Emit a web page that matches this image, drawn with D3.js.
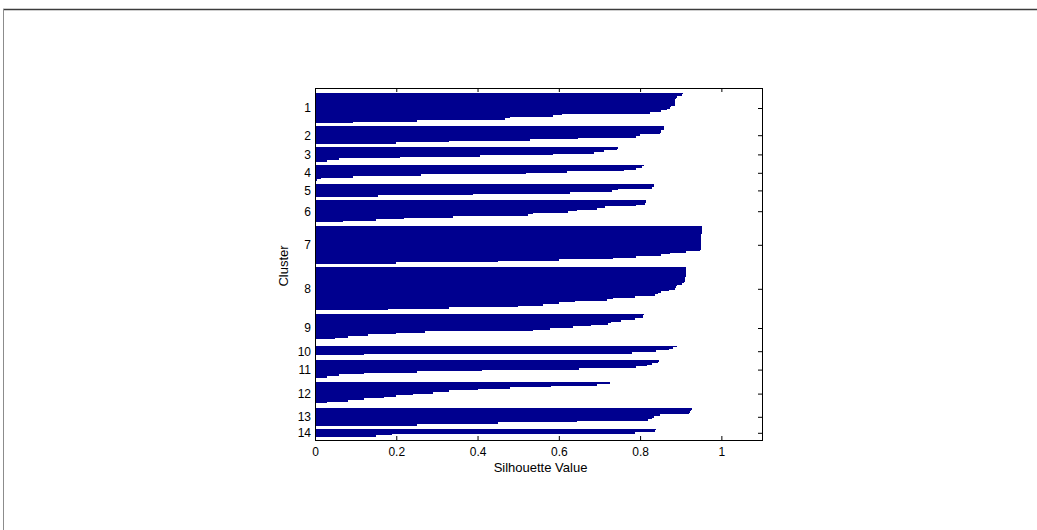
<!DOCTYPE html>
<html>
<head>
<meta charset="utf-8">
<script src="https://cdn.jsdelivr.net/npm/d3@7"></script>
<style>
  body { margin: 0; background: #ffffff; }
  svg { display: block; }
  text { font-family: "Liberation Sans", Arial, Helvetica, sans-serif; fill: #000; }
</style>
</head>
<body>
<svg id="chart" width="1037" height="530"></svg>
<script>
// ---------------- data ----------------
const clusterLabels = ["1","2","3","4","5","6","7","8","9","10","11","12","13","14"];

const cluster1  = [0.905, 0.902, 0.89, 0.888, 0.887, 0.887, 0.887, 0.886, 0.876, 0.874, 0.865, 0.851, 0.824, 0.607, 0.586, 0.48, 0.467, 0.25, 0.093];
const cluster2  = [0.859, 0.858, 0.852, 0.851, 0.849, 0.80, 0.79, 0.648, 0.53, 0.33, 0.2];
const cluster3  = [0.745, 0.743, 0.71, 0.687, 0.586, 0.406, 0.21, 0.06, 0.03];
const cluster4  = [0.809, 0.805, 0.791, 0.761, 0.62, 0.52, 0.26, 0.093, 0.015, 0.004];
const cluster5  = [0.834, 0.833, 0.83, 0.746, 0.73, 0.627, 0.39, 0.155];
const cluster6  = [0.814, 0.814, 0.812, 0.791, 0.713, 0.693, 0.645, 0.623, 0.537, 0.524, 0.34, 0.22, 0.15, 0.07];
const cluster7  = [0.953, 0.953, 0.952, 0.952, 0.952, 0.951, 0.951, 0.951, 0.951, 0.95, 0.95, 0.95, 0.95, 0.95, 0.949, 0.948, 0.914, 0.873, 0.851, 0.791, 0.734, 0.6, 0.45, 0.2];
const cluster8  = [0.913, 0.913, 0.912, 0.912, 0.912, 0.912, 0.911, 0.911, 0.911, 0.908, 0.904, 0.89, 0.889, 0.887, 0.872, 0.851, 0.845, 0.837, 0.787, 0.734, 0.718, 0.64, 0.6, 0.562, 0.5, 0.33, 0.18];
const cluster9  = [0.809, 0.808, 0.806, 0.787, 0.754, 0.728, 0.72, 0.68, 0.635, 0.578, 0.537, 0.27, 0.2, 0.13, 0.08, 0.05, 0.003, 0.001];
const cluster10 = [0.892, 0.88, 0.872, 0.84, 0.78, 0.12, 0.003];
const cluster11 = [0.846, 0.845, 0.83, 0.816, 0.79, 0.65, 0.41, 0.25, 0.12, 0.06, 0.03, 0.002];
const cluster12 = [0.726, 0.693, 0.58, 0.48, 0.4, 0.33, 0.29, 0.24, 0.2, 0.17, 0.12, 0.08, 0.03, 0.003];
const cluster13 = [0.927, 0.926, 0.924, 0.92, 0.85, 0.835, 0.83, 0.82, 0.644, 0.45, 0.25];
const cluster14 = [0.839, 0.836, 0.787, 0.19, 0.15];

const clusterValues = [cluster1, cluster2, cluster3, cluster4, cluster5, cluster6, cluster7,
                       cluster8, cluster9, cluster10, cluster11, cluster12, cluster13, cluster14];

const xTickValues = [0, 0.2, 0.4, 0.6, 0.8, 1];
const xTickLabels = ["0", "0.2", "0.4", "0.6", "0.8", "1"];
const xAxisTitle = "Silhouette Value";
const yAxisTitle = "Cluster";

// ---------------- layout ----------------
const W = 1037, H = 530;
const plot = { left: 315, right: 762, top: 88, bottom: 440 };
const TOP_PAD = 3, GAP = 2, BOTTOM_PAD = 2;
const BAR_COLOR = "#00008f";

let rowCursor = TOP_PAD;
const layout = clusterValues.map((vals, i) => {
  const start = rowCursor;
  rowCursor += vals.length + GAP;
  return { label: clusterLabels[i], values: vals, start, center: start + vals.length / 2 };
});
const totalRows = rowCursor - GAP + BOTTOM_PAD;

const x = d3.scaleLinear().domain([0, 1.1]).range([plot.left, plot.right]);
const y = d3.scaleLinear().domain([0, totalRows]).range([plot.top, plot.bottom]);

const svg = d3.select("#chart");
svg.append("rect").attr("width", W).attr("height", H).attr("fill", "#fff");

// figure frame lines
svg.append("line").attr("x1", 3).attr("x2", W).attr("y1", 9.5).attr("y2", 9.5)
  .attr("stroke", "#3c3c3c").attr("stroke-width", 1.3);
svg.append("line").attr("x1", 3.5).attr("x2", 3.5).attr("y1", 9).attr("y2", H)
  .attr("stroke", "#8c8c8c").attr("stroke-width", 1);

const centers = layout.map(d => d.center);

// left axis (ticks under bars)
const leftAxis = svg.append("g").attr("transform", `translate(${plot.left},0)`)
  .call(d3.axisLeft(y).tickValues(centers).tickFormat((d, i) => clusterLabels[i])
    .tickSizeInner(-4).tickSizeOuter(0).tickPadding(4));
leftAxis.select(".domain").remove();
leftAxis.selectAll("text").attr("font-size", 12).attr("font-family", null);
leftAxis.selectAll("line").attr("stroke", "#000");

// bars, one stepped area per cluster
const area = d3.area()
  .curve(d3.curveStepBefore)
  .x0(x(0))
  .x1(d => x(d.v))
  .y(d => y(d.r));

svg.append("g").selectAll("path")
  .data(layout)
  .join("path")
  .attr("d", c => {
    const pts = c.values.map((v, j) => ({ v, r: c.start + j }));
    pts.push({ v: c.values[c.values.length - 1], r: c.start + c.values.length });
    return area(pts);
  })
  .attr("fill", BAR_COLOR)
  .attr("shape-rendering", "crispEdges");

// bottom axis
const bottomAxis = svg.append("g").attr("transform", `translate(0,${plot.bottom})`)
  .call(d3.axisBottom(x).tickValues(xTickValues).tickFormat((d, i) => xTickLabels[i])
    .tickSizeInner(-4).tickSizeOuter(0).tickPadding(7));
bottomAxis.select(".domain").remove();
bottomAxis.selectAll("text").attr("font-size", 12).attr("font-family", null);

// top axis (ticks only)
const topAxis = svg.append("g").attr("transform", `translate(0,${plot.top})`)
  .call(d3.axisTop(x).tickValues(xTickValues).tickFormat("").tickSizeInner(-4).tickSizeOuter(0));
topAxis.select(".domain").remove();

// right axis (ticks only)
const rightAxis = svg.append("g").attr("transform", `translate(${plot.right},0)`)
  .call(d3.axisRight(y).tickValues(centers).tickFormat("").tickSizeInner(-4).tickSizeOuter(0));
rightAxis.select(".domain").remove();

// axes box
svg.append("rect")
  .attr("x", plot.left + 0.5).attr("y", plot.top + 0.5)
  .attr("width", plot.right - plot.left).attr("height", plot.bottom - plot.top)
  .attr("fill", "none").attr("stroke", "#000").attr("stroke-width", 1);

// axis titles
svg.append("text")
  .attr("x", (plot.left + plot.right) / 2 + 2).attr("y", 472)
  .attr("text-anchor", "middle").attr("font-size", 13)
  .text(xAxisTitle);
svg.append("text")
  .attr("transform", `translate(288,${(plot.top + plot.bottom) / 2 + 2}) rotate(-90)`)
  .attr("text-anchor", "middle").attr("font-size", 13)
  .text(yAxisTitle);
</script>
</body>
</html>
